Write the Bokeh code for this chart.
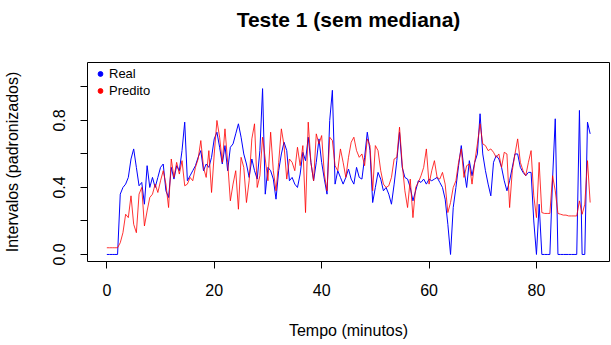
from bokeh.plotting import figure
from bokeh.models import Range1d, FixedTicker, Legend, LegendItem, ColumnDataSource, Title
from bokeh.embed import file_html
from bokeh.resources import INLINE

# ---- data (one value every 0.5 minute) ----
step_minutes = 0.5
real = [
    0.00, 0.00, 0.00, 0.00, 0.00, 0.36, 0.40, 0.42, 0.46, 0.57,
    0.63, 0.52, 0.41, 0.43, 0.30, 0.53, 0.40, 0.46, 0.40, 0.46,
    0.52, 0.54, 0.38, 0.34, 0.52, 0.45, 0.53, 0.50, 0.62, 0.79,
    0.44, 0.47, 0.50, 0.53, 0.58, 0.62, 0.50, 0.54, 0.52, 0.58,
    0.69, 0.73, 0.64, 0.54, 0.65, 0.50, 0.64, 0.66, 0.72, 0.78,
    0.70, 0.60, 0.54, 0.46, 0.57, 0.50, 0.45, 0.62, 0.99, 0.36,
    0.52, 0.50, 0.45, 0.33, 0.50, 0.60, 0.67, 0.62, 0.44, 0.46,
    0.42, 0.40, 0.48, 0.61, 0.56, 0.70, 0.55, 0.44, 0.55, 0.69,
    0.55, 0.45, 0.36, 0.80, 0.98, 0.42, 0.50, 0.46, 0.42, 0.46,
    0.51, 0.45, 0.42, 0.52, 0.46, 0.45, 0.58, 0.73, 0.62, 0.31,
    0.40, 0.49, 0.45, 0.38, 0.40, 0.36, 0.30, 0.42, 0.56, 0.73,
    0.52, 0.46, 0.45, 0.40, 0.32, 0.38, 0.44, 0.43, 0.45, 0.42,
    0.45, 0.44, 0.45, 0.46, 0.43, 0.40, 0.33, 0.18, 0.00, 0.28,
    0.40, 0.53, 0.65, 0.51, 0.40, 0.56, 0.47, 0.55, 0.60, 0.84,
    0.60, 0.50, 0.42, 0.35, 0.55, 0.59, 0.57, 0.52, 0.44, 0.38,
    0.44, 0.52, 0.60, 0.60, 0.52, 0.49, 0.47, 0.49, 0.49, 0.20,
    0.00, 0.30, 0.00, 0.00, 0.00, 0.00, 0.45, 0.81, 0.00, 0.00,
    0.00, 0.00, 0.00, 0.00, 0.00, 0.00, 0.86, 0.00, 0.00, 0.79,
    0.72,
]
predito = [
    0.04, 0.04, 0.04, 0.04, 0.04, 0.07, 0.13, 0.24, 0.22, 0.35,
    0.18, 0.13, 0.36, 0.40, 0.17, 0.26, 0.34, 0.36, 0.42, 0.37,
    0.44, 0.50, 0.42, 0.28, 0.57, 0.46, 0.55, 0.48, 0.56, 0.41,
    0.42, 0.46, 0.44, 0.52, 0.57, 0.68, 0.52, 0.46, 0.62, 0.37,
    0.60, 0.80, 0.70, 0.55, 0.75, 0.55, 0.32, 0.42, 0.50, 0.27,
    0.58, 0.52, 0.31, 0.44, 0.69, 0.78, 0.40, 0.47, 0.70, 0.57,
    0.44, 0.73, 0.50, 0.38, 0.55, 0.75, 0.65, 0.45, 0.57, 0.55,
    0.50, 0.64, 0.53, 0.65, 0.25, 0.79, 0.55, 0.44, 0.72, 0.66,
    0.71, 0.48, 0.38, 0.70, 0.68, 0.53, 0.50, 0.63, 0.55, 0.46,
    0.58, 0.67, 0.70, 0.62, 0.58, 0.60, 0.53, 0.69, 0.65, 0.38,
    0.65, 0.62, 0.50, 0.42, 0.40, 0.41, 0.46, 0.57, 0.58, 0.76,
    0.54, 0.38, 0.28, 0.45, 0.22, 0.40, 0.43, 0.47, 0.52, 0.63,
    0.42, 0.50, 0.56, 0.46, 0.45, 0.49, 0.42, 0.25, 0.31, 0.40,
    0.44, 0.55, 0.63, 0.46, 0.53, 0.54, 0.42, 0.55, 0.66, 0.78,
    0.66, 0.65, 0.62, 0.63, 0.61, 0.58, 0.60, 0.52, 0.61, 0.60,
    0.28, 0.50, 0.60, 0.69, 0.55, 0.50, 0.47, 0.55, 0.62, 0.35,
    0.22, 0.55, 0.25, 0.245, 0.245, 0.245, 0.47, 0.38, 0.245, 0.24,
    0.235, 0.235, 0.23, 0.23, 0.23, 0.23, 0.32, 0.24, 0.30, 0.56,
    0.31,
]
tempo = [i * step_minutes for i in range(len(real))]

x_ticks = [0, 20, 40, 60, 80]
y_ticks = [0.0, 0.2, 0.4, 0.6, 0.8, 1.0]
y_tick_labels = ["0.0", "", "0.4", "", "0.8", ""]

title_text = "Teste 1 (sem mediana)"
x_label = "Tempo (minutos)"
y_label = "Intervalos (padronizados)"
series_names = ["Real", "Predito"]
series_colors = ["#0000FF", "#FF0000"]

FONT = "Liberation Sans"

p = figure(
    width=611, height=345,
    output_backend="svg", toolbar_location=None,
    x_range=Range1d(-3.6, 93.6), y_range=Range1d(-0.042, 1.146),
    min_border_left=87, min_border_right=2, min_border_top=62, min_border_bottom=84,
)
p.background_fill_color = "white"
p.border_fill_color = "white"
p.outline_line_color = "black"
p.outline_line_width = 1
p.grid.visible = False

# spacer panel next to the frame, then the real title above it
p.add_layout(Title(text=" ", text_font_size="22px", standoff=0), "above")
p.add_layout(Title(text=title_text, align="center", text_font=FONT,
                   text_font_size="21px", text_font_style="bold",
                   text_color="black"), "above")

src = ColumnDataSource(dict(t=tempo, real=real, pred=predito))
p.line("t", "real", source=src, line_color=series_colors[0], line_width=1)
p.line("t", "pred", source=src, line_color=series_colors[1], line_width=1, line_alpha=0.8)

# axes
xa = p.xaxis[0]
xa.ticker = FixedTicker(ticks=x_ticks)
xa.axis_label = x_label
ya = p.yaxis[0]
ya.ticker = FixedTicker(ticks=y_ticks)
ya.major_label_overrides = {t: lab for t, lab in zip(y_ticks, y_tick_labels)}
ya.axis_label = y_label
ya.major_label_orientation = "vertical"
for ax in (xa, ya):
    ax.axis_line_color = None
    ax.minor_tick_line_color = None
    ax.major_tick_in = 0
    ax.major_tick_out = 7
    ax.major_tick_line_color = "black"
    ax.major_label_text_font = FONT
    ax.major_label_text_font_size = "16px"
    ax.major_label_text_color = "black"
    ax.axis_label_text_font = FONT
    ax.axis_label_text_font_size = "16px"
    ax.axis_label_text_font_style = "normal"
    ax.axis_label_text_color = "black"
xa.major_label_standoff = 15
xa.axis_label_standoff = 23
ya.major_label_standoff = 15
ya.axis_label_standoff = 30

# legend (markers only; renderers carry no visible point)
nan = float("nan")
r_leg = [
    p.scatter(x=[nan], y=[nan], marker="circle", size=7, color=c)
    for c in series_colors
]
legend = Legend(
    items=[LegendItem(label=n, renderers=[r]) for n, r in zip(series_names, r_leg)],
    location=(7, 162),
    border_line_color=None,
    background_fill_alpha=0,
    label_text_font=FONT,
    label_text_font_size="13px",
    label_text_color="black",
    glyph_width=12, glyph_height=17, label_height=17,
    label_standoff=3, spacing=0, padding=0, margin=0,
)
p.add_layout(legend)

open("out.html", "w").write(file_html(p, INLINE))
